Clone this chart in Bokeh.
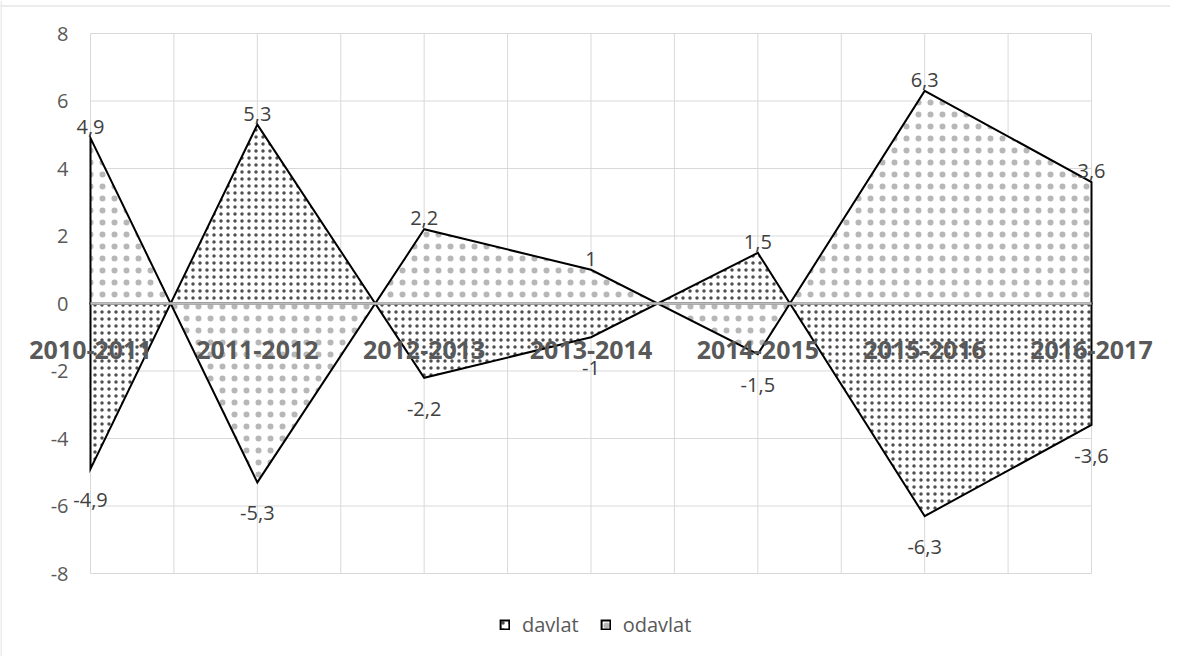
from bokeh.plotting import figure
from bokeh.models import Legend, LegendItem, ColumnDataSource, Span
from bokeh.core.properties import value
from bokeh.embed import file_html
from bokeh.resources import INLINE

categories = ["2010-2011", "2011-2012", "2012-2013", "2013-2014",
              "2014-2015", "2015-2016", "2016-2017"]
davlat = [-4.9, 5.3, -2.2, -1.0, 1.5, -6.3, -3.6]
odavlat = [4.9, -5.3, 2.2, 1.0, -1.5, 6.3, 3.6]
y_ticks = [-8, -6, -4, -2, 0, 2, 4, 6, 8]

FONT = value("Open Sans")
xpos = list(range(len(categories)))

# canvas & plot-area layout (pixels)
W, H = 1170, 656
PL, PR, PT, PB = 90, 1091, 33, 573
xs_span = xpos[-1] - xpos[0]
ppx = (PR - PL) / xs_span
x0 = xpos[0] - PL / ppx
x1 = xpos[-1] + (W - PR) / ppx
ys_span = y_ticks[-1] - y_ticks[0]
ppy = (PB - PT) / ys_span
y1 = y_ticks[-1] + PT / ppy
y0 = y_ticks[0] - (H - PB) / ppy

p = figure(width=W, height=H, output_backend="svg", toolbar_location=None,
           x_range=(x0, x1), y_range=(y0, y1),
           x_axis_type=None, y_axis_type=None,
           min_border=0, min_border_left=0, min_border_right=0,
           min_border_top=0, min_border_bottom=0)
p.outline_line_color = None
p.background_fill_color = "white"
p.border_fill_color = "white"

# grid lines limited to the plot area
gx = [xpos[0] + i / 2 for i in range(2 * xs_span + 1)]
p.segment(x0=gx, y0=[y_ticks[0]] * len(gx), x1=gx, y1=[y_ticks[-1]] * len(gx),
          line_color="#d9d9d9", line_width=1, level="underlay")
p.segment(x0=[xpos[0]] * len(y_ticks), y0=y_ticks, x1=[xpos[-1]] * len(y_ticks),
          y1=y_ticks, line_color="#d9d9d9", line_width=1, level="underlay")

series = [("davlat", davlat, dict(hatch_pattern="dot", hatch_scale=7,
                                  hatch_color="#303030", hatch_alpha=0.85)),
          ("odavlat", odavlat, dict(hatch_pattern="dot", hatch_scale=12,
                                    hatch_color="#303030", hatch_alpha=0.35))]
areas = {}
for name, vals, hatch in series:
    xs = [xpos[0]] + xpos + [xpos[-1]]
    ys = [0] + vals + [0]
    areas[name] = p.patch(xs, ys, fill_color="white", line_color="black",
                          line_width=2, line_join="miter", **hatch)

# horizontal axis line at zero (covers the area baselines)
p.segment(x0=[xpos[0]], y0=[0], x1=[xpos[-1]], y1=[0], line_color="#bfbfbf",
          line_width=2.6)

# y tick labels
p.text(x=[xpos[0]] * len(y_ticks), y=y_ticks, text=[str(t) for t in y_ticks],
       text_font=FONT, text_font_size="20px", text_color="#595959",
       text_align="right", text_baseline="middle", x_offset=-22)

# data labels
for name, vals, hatch in series:
    pos = [(x, v) for x, v in zip(xpos, vals) if v >= 0]
    neg = [(x, v) for x, v in zip(xpos, vals) if v < 0]
    for group, off in ((pos, -11), (neg, 31)):
        src = ColumnDataSource(dict(
            x=[g[0] for g in group], y=[g[1] for g in group],
            t=[f"{g[1]:g}".replace(".", ",") for g in group]))
        p.text(x="x", y="y", text="t", source=src, text_font=FONT,
               text_font_size="20px", text_color="#404040", text_align="center",
               text_baseline="alphabetic", y_offset=off)

# category labels
p.text(x=xpos, y=[0] * len(xpos), text=categories, text_font=FONT,
       text_font_size="25px", text_font_style="bold", text_color="#595959",
       text_align="center", text_baseline="alphabetic", y_offset=46)

items = [LegendItem(label=name, renderers=[areas[name]]) for name, _, _ in series]
legend = Legend(items=items, orientation="horizontal",
                location=(499, 18), padding=0, margin=0, spacing=21,
                label_standoff=12, glyph_width=11, glyph_height=11,
                label_text_font="Open Sans", label_text_font_size="20px",
                label_text_color="#595959", border_line_alpha=0,
                background_fill_alpha=0, label_height=20)
p.add_layout(legend)

# outer chart border (left and top visible in the window)
p.add_layout(Span(location=0.5, location_units="canvas", dimension="height",
                  line_color="#d9d9d9", line_width=1))
p.add_layout(Span(location=5.5, location_units="canvas", dimension="width",
                  line_color="#d9d9d9", line_width=1))

open("out.html", "w").write(file_html(p, INLINE))
